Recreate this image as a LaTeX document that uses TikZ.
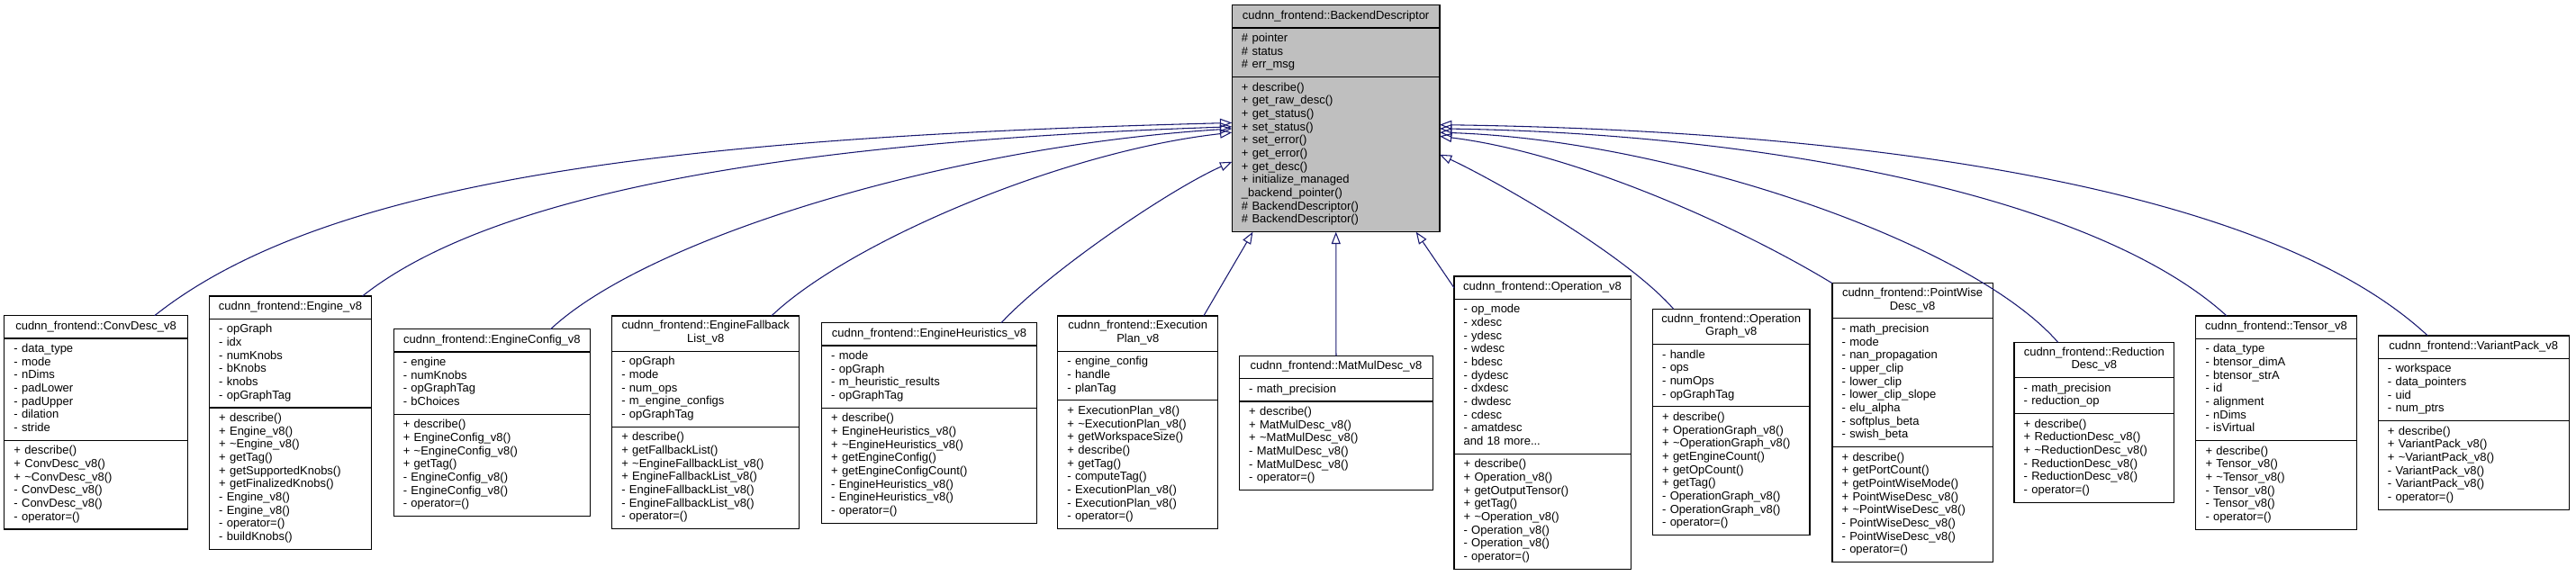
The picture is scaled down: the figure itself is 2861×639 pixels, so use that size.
\documentclass[tikz,border=0pt]{standalone}
\usepackage{fontspec}
\setmainfont{Liberation Sans}
\usetikzlibrary{arrows.meta,positioning}
\definecolor{edgeblue}{HTML}{191970}
\definecolor{basefill}{HTML}{BFBFBF}

\begin{document}
\begin{tikzpicture}[
  x=0.75pt, y=-0.75pt,
  part/.style={draw=black,line width=0.9pt,fill=white,outer sep=0pt,inner ysep=4pt,
    font=\fontsize{9.75}{11}\selectfont,execute at begin node=\strut,execute at end node=\strut},
  ctitle/.style={part,anchor=north west,inner xsep=0pt,minimum width=#1+16pt,align=center},
  cbody/.style={part,inner xsep=8pt,text width=#1,align=left},
  inherit/.style={draw=edgeblue,line width=0.8pt,-{Triangle[open,length=10pt,width=7.5pt]}}
]
  \useasboundingbox (0,0) rectangle (2861,639);

  % base class
  \node[ctitle=157pt,fill=basefill] (base) at (1368.3,5.7) {cudnn\_frontend::BackendDescriptor};
  \node[cbody=157pt,fill=basefill,below=0pt of base] (baseA) {\# pointer\\\# status\\\# err\_msg};
  \node[cbody=157pt,fill=basefill,below=0pt of baseA] (baseM)
    {+ describe()\\+ get\_raw\_desc()\\+ get\_status()\\+ set\_status()\\+ set\_error()\\+ get\_error()\\+ get\_desc()\\+ initialize\_managed\\\_backend\_pointer()\\\# BackendDescriptor()\\\# BackendDescriptor()};

  % derived classes
  \node[ctitle=136.6pt] (conv) at (4.8,350.7) {cudnn\_frontend::ConvDesc\_v8};
  \node[cbody=136.6pt,below=0pt of conv] (convA) {- data\_type\\- mode\\- nDims\\- padLower\\- padUpper\\- dilation\\- stride};
  \node[cbody=136.6pt,below=0pt of convA] (convM)
    {+ describe()\\+ ConvDesc\_v8()\\+ \textasciitilde ConvDesc\_v8()\\- ConvDesc\_v8()\\- ConvDesc\_v8()\\- operator=()};

  \node[ctitle=119pt] (engine) at (232.5,329) {cudnn\_frontend::Engine\_v8};
  \node[cbody=119pt,below=0pt of engine] (engineA) {- opGraph\\- idx\\- numKnobs\\- bKnobs\\- knobs\\- opGraphTag};
  \node[cbody=119pt,below=0pt of engineA] (engineM)
    {+ describe()\\+ Engine\_v8()\\+ \textasciitilde Engine\_v8()\\+ getTag()\\+ getSupportedKnobs()\\+ getFinalizedKnobs()\\- Engine\_v8()\\- Engine\_v8()\\- operator=()\\- buildKnobs()};

  \node[ctitle=148pt] (config) at (437.1,365.7) {cudnn\_frontend::EngineConfig\_v8};
  \node[cbody=148pt,below=0pt of config] (configA) {- engine\\- numKnobs\\- opGraphTag\\- bChoices};
  \node[cbody=148pt,below=0pt of configA] (configM)
    {+ describe()\\+ EngineConfig\_v8()\\+ \textasciitilde EngineConfig\_v8()\\+ getTag()\\- EngineConfig\_v8()\\- EngineConfig\_v8()\\- operator=()};

  \node[ctitle=140.2pt] (fallback) at (679.6,351) {cudnn\_frontend::EngineFallback\\List\_v8};
  \node[cbody=140.2pt,below=0pt of fallback] (fallbackA) {- opGraph\\- mode\\- num\_ops\\- m\_engine\_configs\\- opGraphTag};
  \node[cbody=140.2pt,below=0pt of fallbackA] (fallbackM)
    {+ describe()\\+ getFallbackList()\\+ \textasciitilde EngineFallbackList\_v8()\\+ EngineFallbackList\_v8()\\- EngineFallbackList\_v8()\\- EngineFallbackList\_v8()\\- operator=()};

  \node[ctitle=163.2pt] (heur) at (912.5,358.7) {cudnn\_frontend::EngineHeuristics\_v8};
  \node[cbody=163.2pt,below=0pt of heur] (heurA) {- mode\\- opGraph\\- m\_heuristic\_results\\- opGraphTag};
  \node[cbody=163.2pt,below=0pt of heurA] (heurM)
    {+ describe()\\+ EngineHeuristics\_v8()\\+ \textasciitilde EngineHeuristics\_v8()\\+ getEngineConfig()\\+ getEngineConfigCount()\\- EngineHeuristics\_v8()\\- EngineHeuristics\_v8()\\- operator=()};

  \node[ctitle=117.4pt] (plan) at (1174.8,351) {cudnn\_frontend::Execution\\Plan\_v8};
  \node[cbody=117.4pt,below=0pt of plan] (planA) {- engine\_config\\- handle\\- planTag};
  \node[cbody=117.4pt,below=0pt of planA] (planM)
    {+ ExecutionPlan\_v8()\\+ \textasciitilde ExecutionPlan\_v8()\\+ getWorkspaceSize()\\+ describe()\\+ getTag()\\- computeTag()\\- ExecutionPlan\_v8()\\- ExecutionPlan\_v8()\\- operator=()};

  \node[ctitle=145.2pt] (matmul) at (1376.5,395.3) {cudnn\_frontend::MatMulDesc\_v8};
  \node[cbody=145.2pt,below=0pt of matmul] (matmulA) {- math\_precision};
  \node[cbody=145.2pt,below=0pt of matmulA] (matmulM)
    {+ describe()\\+ MatMulDesc\_v8()\\+ \textasciitilde MatMulDesc\_v8()\\- MatMulDesc\_v8()\\- MatMulDesc\_v8()\\- operator=()};

  \node[ctitle=131.2pt] (oper) at (1614.9,307) {cudnn\_frontend::Operation\_v8};
  \node[cbody=131.2pt,below=0pt of oper] (operA)
    {- op\_mode\\- xdesc\\- ydesc\\- wdesc\\- bdesc\\- dydesc\\- dxdesc\\- dwdesc\\- cdesc\\- amatdesc\\and 18 more...};
  \node[cbody=131.2pt,below=0pt of operA] (operM)
    {+ describe()\\+ Operation\_v8()\\+ getOutputTensor()\\+ getTag()\\+ \textasciitilde Operation\_v8()\\- Operation\_v8()\\- Operation\_v8()\\- operator=()};

  \node[ctitle=115pt] (graph) at (1835.4,343.3) {cudnn\_frontend::Operation\\Graph\_v8};
  \node[cbody=115pt,below=0pt of graph] (graphA) {- handle\\- ops\\- numOps\\- opGraphTag};
  \node[cbody=115pt,below=0pt of graphA] (graphM)
    {+ describe()\\+ OperationGraph\_v8()\\+ \textasciitilde OperationGraph\_v8()\\+ getEngineCount()\\+ getOpCount()\\+ getTag()\\- OperationGraph\_v8()\\- OperationGraph\_v8()\\- operator=()};

  \node[ctitle=117.7pt] (pw) at (2034.9,314.7) {cudnn\_frontend::PointWise\\Desc\_v8};
  \node[cbody=117.7pt,below=0pt of pw] (pwA)
    {- math\_precision\\- mode\\- nan\_propagation\\- upper\_clip\\- lower\_clip\\- lower\_clip\_slope\\- elu\_alpha\\- softplus\_beta\\- swish\_beta};
  \node[cbody=117.7pt,below=0pt of pwA] (pwM)
    {+ describe()\\+ getPortCount()\\+ getPointWiseMode()\\+ PointWiseDesc\_v8()\\+ \textasciitilde PointWiseDesc\_v8()\\- PointWiseDesc\_v8()\\- PointWiseDesc\_v8()\\- operator=()};

  \node[ctitle=117.2pt] (red) at (2237,380.3) {cudnn\_frontend::Reduction\\Desc\_v8};
  \node[cbody=117.2pt,below=0pt of red] (redA) {- math\_precision\\- reduction\_op};
  \node[cbody=117.2pt,below=0pt of redA] (redM)
    {+ describe()\\+ ReductionDesc\_v8()\\+ \textasciitilde ReductionDesc\_v8()\\- ReductionDesc\_v8()\\- ReductionDesc\_v8()\\- operator=()};

  \node[ctitle=117.7pt] (tensor) at (2438.8,351) {cudnn\_frontend::Tensor\_v8};
  \node[cbody=117.7pt,below=0pt of tensor] (tensorA)
    {- data\_type\\- btensor\_dimA\\- btensor\_strA\\- id\\- alignment\\- nDims\\- isVirtual};
  \node[cbody=117.7pt,below=0pt of tensorA] (tensorM)
    {+ describe()\\+ Tensor\_v8()\\+ \textasciitilde Tensor\_v8()\\- Tensor\_v8()\\- Tensor\_v8()\\- operator=()};

  \node[ctitle=142.9pt] (vpack) at (2641.2,373) {cudnn\_frontend::VariantPack\_v8};
  \node[cbody=142.9pt,below=0pt of vpack] (vpackA) {- workspace\\- data\_pointers\\- uid\\- num\_ptrs};
  \node[cbody=142.9pt,below=0pt of vpackA] (vpackM)
    {+ describe()\\+ VariantPack\_v8()\\+ \textasciitilde VariantPack\_v8()\\- VariantPack\_v8()\\- VariantPack\_v8()\\- operator=()};

  % inheritance
  \draw[inherit] (conv.11.2) .. controls (366.8,195.7) and (768,152) .. (baseM.163.2);
  \draw[inherit] (engine.9.4) .. controls (557,206.4) and (918,156) .. (baseM.165);
  \draw[inherit] (config.11.9) .. controls (718.3,265.5) and (1050,163) .. (baseM.166.9);
  \draw[inherit] (fallback.15.85) .. controls (942.3,269.4) and (1180,168) .. (baseM.168.8);
  \draw[inherit] (heur.9) .. controls (1166.6,300.3) and (1300,210) .. (baseM.184.5);
  \draw[inherit] (plan.15.4) -- (baseM.223.5);
  \draw[inherit] (matmul) -- (baseM);
  \draw[inherit] (oper.west) -- (baseM.316.8);
  \draw[inherit] (graph.163.1) .. controls (1805,282.3) and (1660,200) .. (baseM.east);
  \draw[inherit] (pw.north west) .. controls (1932.4,252.3) and (1750,170) .. (baseM.10.7);
  \draw[inherit] (red.154.5) .. controls (2186.2,266.5) and (1850,155) .. (baseM.12.6);
  \draw[inherit] (tensor.167.5) .. controls (2323.9,215) and (1950,148) .. (baseM.14.5);
  \draw[inherit] (vpack.166.2) .. controls (2513,202.3) and (2050,145) .. (baseM.16.4);
\end{tikzpicture}
\end{document}
